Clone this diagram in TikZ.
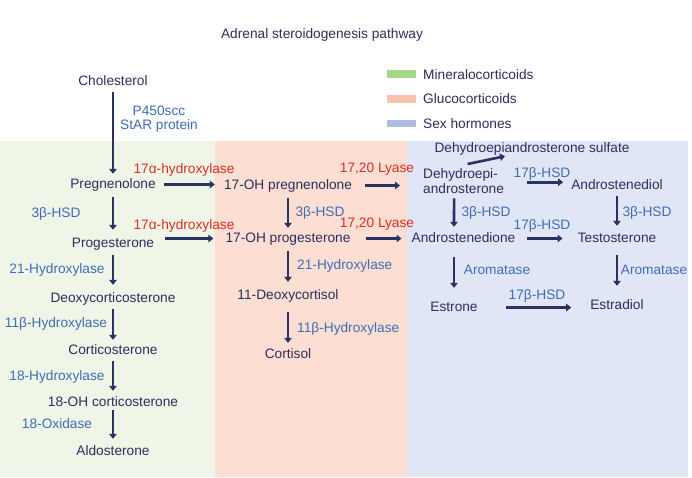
\documentclass[tikz,border=0pt]{standalone}
\usepackage{fontspec}
\setmainfont{Liberation Sans}
\usetikzlibrary{arrows.meta}
\definecolor{navy}{HTML}{2C2E5C}
\definecolor{arrowc}{HTML}{283364}
\definecolor{enz}{HTML}{3F6DB5}
\definecolor{enzred}{HTML}{E52A20}
\definecolor{pgreen}{HTML}{EFF6E8}
\definecolor{psalmon}{HTML}{FDDED3}
\definecolor{pblue}{HTML}{E0E6F5}
\definecolor{lgreen}{HTML}{A5D88A}
\definecolor{lsalmon}{HTML}{F7C2AE}
\definecolor{lblue}{HTML}{AFBDE3}
\begin{document}
\begin{tikzpicture}[x=1pt,y=-1pt,
  every node/.style={inner sep=0pt, font=\fontsize{13.7}{15}\selectfont, text height=10pt, text depth=3pt},
  mol/.style={text=navy, anchor=base},
  enzb/.style={text=enz, anchor=base},
  enzr/.style={text=enzred, anchor=base},
  arr/.style={draw=arrowc, line width=2.6pt, -{Triangle[length=5pt,width=7.5pt]}, shorten <=5pt, shorten >=5pt}]
\useasboundingbox[fill=white] (0,0) rectangle (692,477);
% panels
\fill[pgreen] (0,141) rectangle (215,477);
\fill[psalmon] (215,141) rectangle (407,477);
\fill[pblue] (407,141) rectangle (688,477);
% legend
\fill[lgreen] (387,70) rectangle (416,78);
\fill[lsalmon] (387,95) rectangle (416,102.5);
\fill[lblue] (387,119.5) rectangle (416,127);
\node[mol, anchor=base west] (lg1) at (423,79) {Mineralocorticoids};
\node[mol, anchor=base west] (lg2) at (423,103) {Glucocorticoids};
\node[mol, anchor=base west] (lg3) at (423,128) {Sex hormones};
% nodes
\node[mol] (title) at (322,38) {Adrenal steroidogenesis pathway};
\node[mol] (chol) at (113,85) {Cholesterol};
\node[enzb] (p450) at (159,115) {P450scc};
\node[enzb] (star) at (159,129) {StAR protein};
\node[mol] (preg) at (113,188) {Pregnenolone};
\node[enzr] (ah1) at (184,173) {17α-hydroxylase};
\node[mol] (ohpreg) at (288,189) {17-OH pregnenolone};
\node[enzr] (ly1) at (377,172) {17,20 Lyase};
\node[text=navy, anchor=north west, align=left, text height=25pt, text depth=3pt] (dhea) at (423,168) {Dehydroepi-\\androsterone};
\node[mol] (dheas) at (532,152) {Dehydroepiandrosterone sulfate};
\node[enzb] (h17a) at (542,177) {17β-HSD};
\node[mol] (adiol) at (617,189) {Androstenediol};
\node[enzb] (h3l) at (56,217) {3β-HSD};
\node[enzb] (h3m) at (320,216) {3β-HSD};
\node[enzb] (h3r1) at (486,216) {3β-HSD};
\node[enzb] (h3r2) at (647,216) {3β-HSD};
\node[enzr] (ah2) at (184,229) {17α-hydroxylase};
\node[enzr] (ly2) at (377,227) {17,20 Lyase};
\node[enzb] (h17b) at (542,229) {17β-HSD};
\node[mol] (prog) at (113,247) {Progesterone};
\node[mol] (ohprog) at (288,242) {17-OH progesterone};
\node[mol] (andro) at (463.5,242) {Androstenedione};
\node[mol] (testo) at (617,242) {Testosterone};
\node[enzb] (h21l) at (57,273) {21-Hydroxylase};
\node[enzb, anchor=base west] (h21m) at (297,269) {21-Hydroxylase};
\node[enzb] (aro1) at (497,274) {Aromatase};
\node[enzb] (aro2) at (654,274) {Aromatase};
\node[mol] (doc) at (113,302) {Deoxycorticosterone};
\node[mol] (doxc) at (288,299) {11-Deoxycortisol};
\node[enzb] (h17c) at (537,299) {17β-HSD};
\node[mol] (estrone) at (454,311) {Estrone};
\node[mol] (estradiol) at (617,309) {Estradiol};
\node[enzb] (h11l) at (56,327) {11β-Hydroxylase};
\node[enzb, anchor=base west] (h11m) at (297,332) {11β-Hydroxylase};
\node[mol] (cort) at (113,354) {Corticosterone};
\node[mol] (cortisol) at (288,358) {Cortisol};
\node[enzb] (h18) at (57,380) {18-Hydroxylase};
\node[mol] (oh18) at (113,406) {18-OH corticosterone};
\node[enzb] (ox18) at (57,428) {18-Oxidase};
\node[mol] (ald) at (113,455) {Aldosterone};
% vertical arrows
\draw[arr,shorten <=4pt,shorten >=4pt] (chol) -- (preg);
\draw[arr,shorten <=6pt,shorten >=7pt] (preg) -- (prog);
\draw[arr,shorten >=7pt] (prog) -- (doc);
\draw[arr,shorten <=4pt,shorten >=4pt] (doc) -- (cort);
\draw[arr,shorten <=4pt] (cort) -- (oh18);
\draw[arr,shorten <=1pt,shorten >=6pt] (oh18) -- (ald);
\draw[arr,shorten <=6pt,shorten >=4pt] (ohpreg) -- (ohprog);
\draw[arr,shorten <=6pt,shorten >=7pt] (ohprog) -- (doxc);
\draw[arr,shorten <=10pt] (doxc) -- (cortisol);
\draw[arr,shorten <=2pt] ([xshift=-9.5pt]dhea.south) -- ([xshift=-9.5pt]andro.north);
\draw[arr,shorten <=4pt,shorten >=6pt] (adiol) -- (testo);
\draw[arr,shorten <=12pt,shorten >=13pt] (andro.south -| estrone) -- (estrone);
\draw[arr,shorten <=10pt,shorten >=13pt] (testo) -- (estradiol);
% horizontal arrows
\draw[arr,shorten <=8pt,shorten >=9pt] (preg.east) -- (preg.east -| ohpreg.west);
\draw[arr,shorten <=13pt,shorten >=23pt] (ohpreg.east) -- (ohpreg.east -| dhea.west);
\draw[arr,shorten <=23pt,shorten >=8pt] (dhea.east) -- (dhea.east -| adiol.west);
\draw[arr,shorten <=11pt,shorten >=12pt] (prog.east |- ohprog) -- (ohprog.west);
\draw[arr,shorten <=15pt,shorten >=10pt] (ohprog.east) -- (andro.west);
\draw[arr,shorten <=11pt,shorten >=15pt] (andro.east) -- (testo.west);
\draw[arr,shorten <=28pt,shorten >=19pt] (estrone.east) -- (estrone.east -| estradiol.west);
\draw[arr,shorten <=0pt,shorten >=0pt] ([xshift=4pt,yshift=4pt]dhea.north) -- ([xshift=-27pt,yshift=-1pt]dheas.south);
\end{tikzpicture}
\end{document}
